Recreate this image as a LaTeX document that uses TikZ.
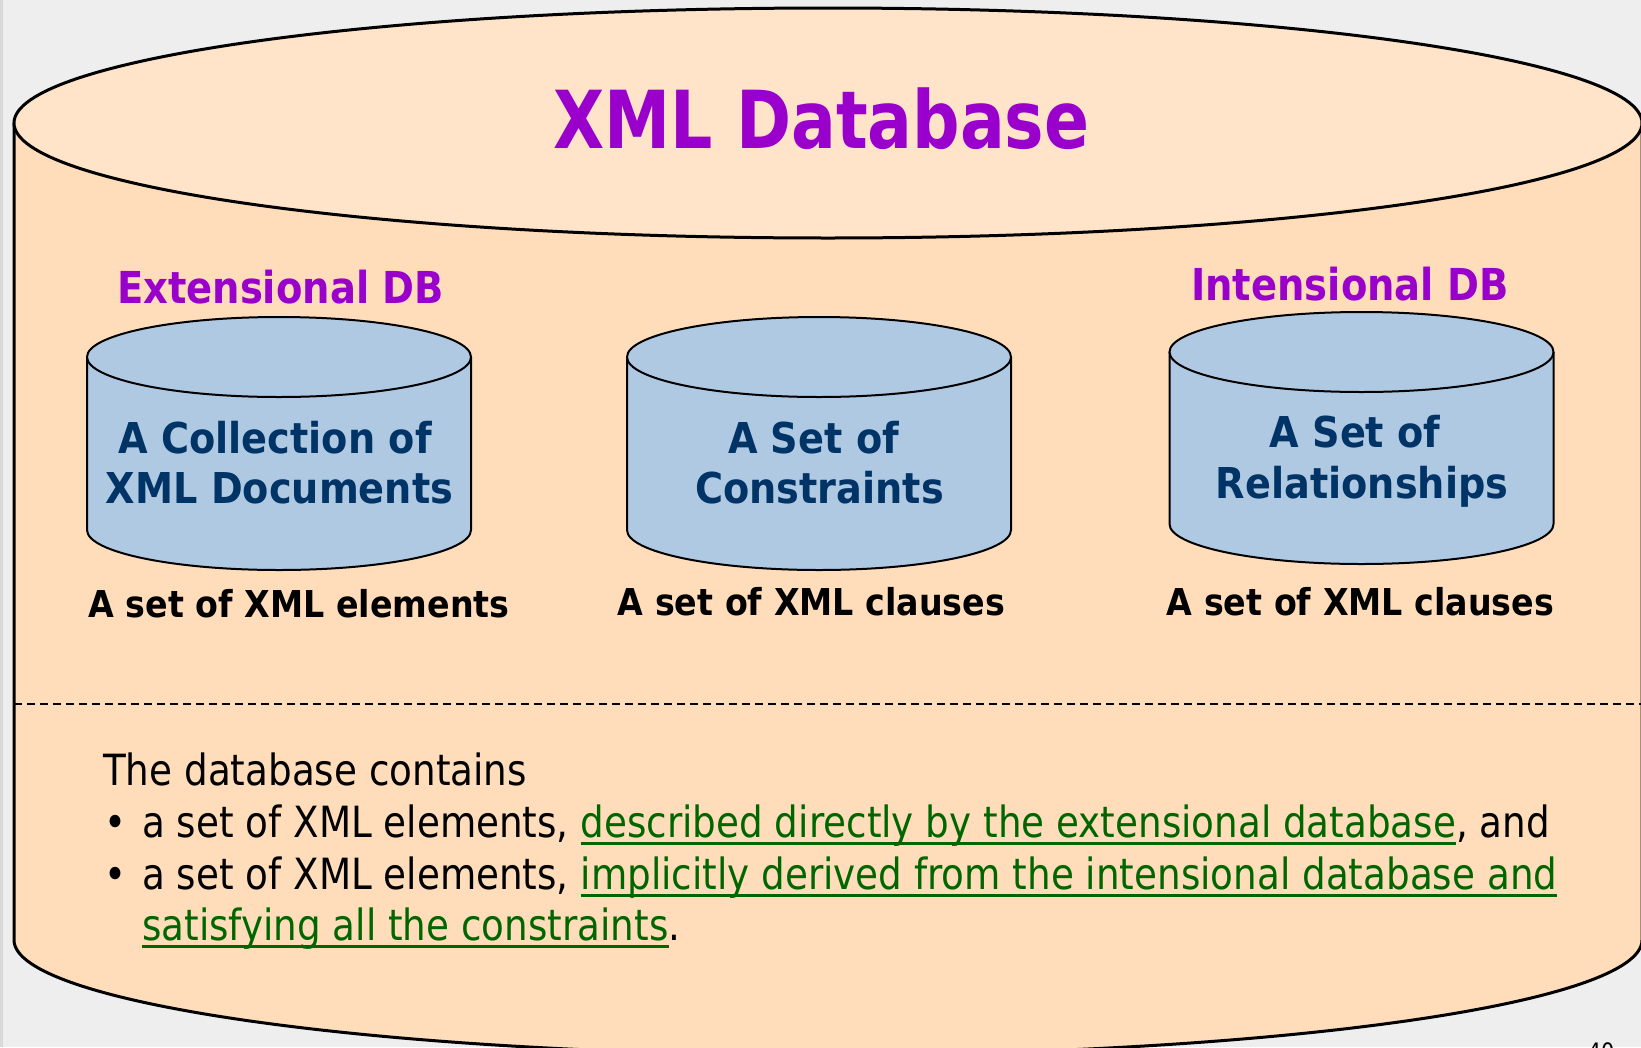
\documentclass[tikz,border=0pt]{standalone}
\usepackage{fontspec}
\newfontfamily\titleface{DejaVu Sans}[FakeStretch=0.83]
\newfontfamily\headface{DejaVu Sans}[FakeStretch=0.875]
\newfontfamily\drumface{DejaVu Sans}[FakeStretch=0.90]
\newfontfamily\plainface{DejaVu Sans}[FakeStretch=0.867]
\definecolor{paper}{HTML}{EEEEEE}
\definecolor{paperedge}{HTML}{D9D9D9}
\definecolor{peach}{HTML}{FFDDBB}
\definecolor{peachtop}{HTML}{FFE4CA}
\definecolor{steel}{HTML}{B0C9E3}
\definecolor{navy}{HTML}{003366}
\definecolor{titlepurple}{HTML}{9900CC}
\definecolor{linkgreen}{HTML}{006600}
% green underlined phrase
\newsavebox\linkbox
\newcommand\greenlink[1]{{\color{linkgreen}\sbox\linkbox{#1}%
  \rlap{\rule[-8pt]{\wd\linkbox}{3pt}}\usebox\linkbox}}
% small blue database drum: centre x, top-ellipse y, bottom-ellipse y
\newcommand\drum[3]{%
  \fill[steel] (#1-192,#2) -- (#1-192,#3)
    arc[start angle=180,end angle=360,x radius=192,y radius=40] -- (#1+192,#2) -- cycle;
  \draw[line width=2] (#1-192,#2) -- (#1-192,#3)
    arc[start angle=180,end angle=360,x radius=192,y radius=40] -- (#1+192,#2);
  \filldraw[fill=steel,line width=2] (#1,#2) ellipse[x radius=192,y radius=40];
}
\begin{document}
\begin{tikzpicture}[x=1pt,y=1pt,
  titletext/.style={font=\titleface\bfseries\fontsize{80}{96}\selectfont,text=titlepurple,inner sep=0,anchor=base},
  dblabel/.style={font=\headface\bfseries\fontsize{44}{52}\selectfont,text=titlepurple,inner sep=0,anchor=base},
  drumtext/.style={font=\drumface\bfseries\fontsize{42.5}{50}\selectfont,text=navy,inner sep=0,anchor=base},
  kindtext/.style={font=\drumface\bfseries\fontsize{37}{44}\selectfont,text=black,inner sep=0,anchor=base},
  bodytext/.style={font=\plainface\fontsize{43}{52}\selectfont,text=black,inner sep=0,anchor=base west},
  divider/.style={line width=1.5,dash pattern=on 8pt off 5pt}]
\useasboundingbox (0,0) rectangle (1641,-1047);
\begin{scope}
\clip (0,0) rectangle (1641,-1047);
% page background
\fill[paper] (0,0) rectangle (1641,-1047);
\fill[paperedge] (0,0) rectangle (3,-1047);

% the large database cylinder
\fill[peach] (14,-123) -- (14,-940)
  arc[start angle=180,end angle=360,x radius=814,y radius=115] -- (1642,-123) -- cycle;
\draw[line width=3] (14,-123) -- (14,-940)
  arc[start angle=180,end angle=360,x radius=814,y radius=115] -- (1642,-123);
\filldraw[fill=peachtop,line width=3] (828,-123) ellipse[x radius=814,y radius=115];

\node[titletext] (title) at (821.5,-148) {XML Database};

% the three component stores
\node[dblabel] (ext) at (280.5,-303) {Extensional DB};
\node[dblabel] (int) at (1350,-300) {Intensional DB};

\drum{279}{-357}{-530}
\drum{819}{-357}{-530}
\drum{1361.5}{-352}{-524}

\node[drumtext] (docs1) at (275,-453) {A Collection of};
\node[drumtext] (docs2) at (279.5,-503) {XML Documents};
\node[drumtext] (cons1) at (813.5,-453) {A Set of};
\node[drumtext] (cons2) at (819.5,-503) {Constraints};
\node[drumtext] (rels1) at (1355,-447) {A Set of};
\node[drumtext] (rels2) at (1362,-498) {Relationships};

\node[kindtext] (kind1) at (299,-617) {A set of XML elements};
\node[kindtext] (kind2) at (811.5,-615) {A set of XML clauses};
\node[kindtext] (kind3) at (1360.5,-615) {A set of XML clauses};

% separator and explanation
\coordinate (divL) at (14,-704);
\coordinate (divR) at (1641,-704);
\draw[divider] (divL) -- (divR);

\node[bodytext] (intro) at (103,-785) {The database contains};
\node[bodytext] (dot1) at (104,-837) {•};
\node[bodytext] (dot2) at (104,-889) {•};
\node[bodytext] (line1) at (142,-837) {a set of XML elements, \greenlink{described directly by the extensional database}, and};
\node[bodytext] (line2) at (142,-889) {a set of XML elements, \greenlink{implicitly derived from the intensional database and}};
\node[bodytext] (line3) at (142,-940) {\greenlink{satisfying all the constraints}.};

\node[font=\plainface\fontsize{24}{28}\selectfont,inner sep=0,anchor=north] (pageno) at (1601,-1042) {40};
\end{scope}
\end{tikzpicture}
\end{document}
